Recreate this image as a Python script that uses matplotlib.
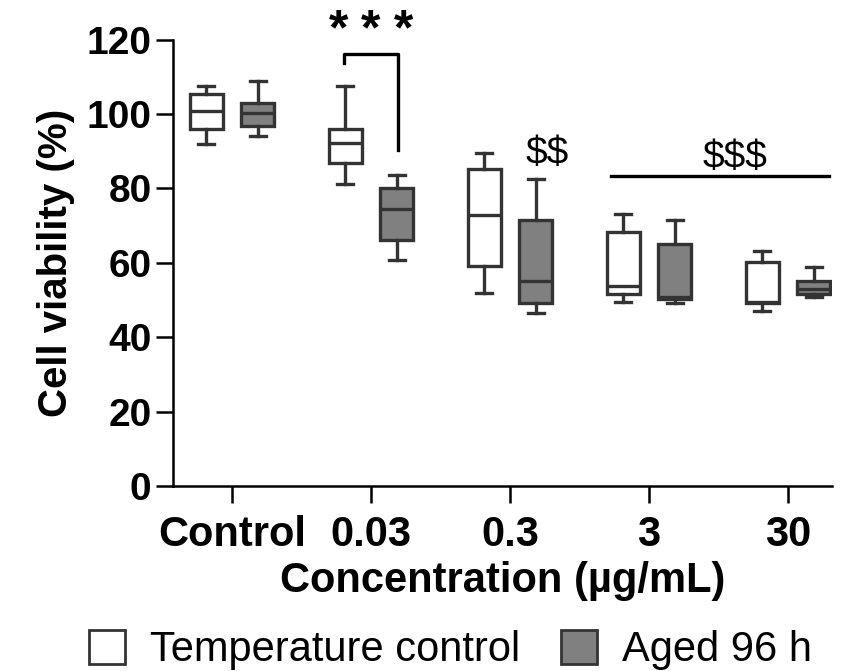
import numpy as np
import matplotlib
matplotlib.use('Agg')
import matplotlib.pyplot as plt
from matplotlib.patches import Patch

plt.rcParams['font.family'] = ['Liberation Sans', 'DejaVu Sans']

# Concentration groups
categories = ['Control', '0.03', '0.3', '3', '30']

# Box statistics (min, Q1, median, Q3, max)
temp_min = [92.0, 81.3, 51.9, 49.4, 47.0]
temp_q1 = [96.1, 86.8, 59.2, 51.7, 49.2]
temp_med = [100.8, 92.1, 72.8, 53.7, 49.5]
temp_q3 = [105.4, 96.0, 85.2, 68.4, 60.1]
temp_max = [107.6, 107.5, 89.4, 73.2, 63.1]

aged_min = [94.1, 60.7, 46.4, 49.2, 50.7]
aged_q1 = [96.8, 66.2, 49.2, 50.3, 51.5]
aged_med = [100.2, 74.5, 55.0, 50.8, 53.0]
aged_q3 = [102.9, 80.2, 71.4, 65.1, 55.2]
aged_max = [108.8, 83.7, 82.5, 71.4, 58.8]

edge = '#333333'
lw = 2.4


def make_stats(mins, q1s, meds, q3s, maxs):
    return [dict(whislo=a, q1=b, med=c, q3=d, whishi=e, fliers=[])
            for a, b, c, d, e in zip(mins, q1s, meds, q3s, maxs)]


fig = plt.figure(figsize=(8.42, 6.71), dpi=100)
ax = fig.add_axes([0.2055, 0.2757, 0.783, 0.6653])

x = np.arange(len(categories))
off = 0.185
width = 0.238

for stats, pos, fc in [(make_stats(temp_min, temp_q1, temp_med, temp_q3, temp_max), x - off, 'white'),
                       (make_stats(aged_min, aged_q1, aged_med, aged_q3, aged_max), x + off, '#808080')]:
    ax.bxp(stats, positions=pos, widths=width, patch_artist=True, showfliers=False,
           boxprops=dict(facecolor=fc, edgecolor=edge, linewidth=lw),
           medianprops=dict(color=edge, linewidth=lw),
           whiskerprops=dict(color=edge, linewidth=lw),
           capprops=dict(color=edge, linewidth=lw),
           capwidths=0.115, manage_ticks=False)

ax.set_xlim(-0.425, 4.32)
ax.set_ylim(0, 120)
ax.set_yticks([0, 20, 40, 60, 80, 100, 120])
ax.set_xticks(x)
ax.set_xticklabels(categories)
for s in ['top', 'right']:
    ax.spines[s].set_visible(False)
for s in ['left', 'bottom']:
    ax.spines[s].set_linewidth(1.8)
ax.tick_params(axis='both', width=1.8, length=12)
ax.tick_params(axis='y', labelsize=28)
ax.tick_params(axis='x', labelsize=30, pad=9)
for lab in ax.get_xticklabels() + ax.get_yticklabels():
    lab.set_fontweight('bold')

ax.set_ylabel('Cell viability (%)', fontsize=29, fontweight='bold', labelpad=8)
ax.set_xlabel('Concentration (µg/mL)', fontsize=30, fontweight='bold', labelpad=4)

# significance annotations
ax.plot([0.807, 0.807, 1.196, 1.196], [113.7, 116.1, 116.1, 90.3], color='black', lw=2.4, clip_on=False)
for sx in [0.764, 1.0, 1.238]:
    ax.text(sx, 118.8, '*', ha='center', va='baseline', fontsize=36, fontweight='bold', clip_on=False)
ax.text(2.27, 89.3, '$$', ha='center', va='center', fontsize=28, parse_math=False)
ax.plot([2.724, 4.295], [83.2, 83.2], color='black', lw=2.4)
ax.text(3.62, 88.2, '$$$', ha='center', va='center', fontsize=28, parse_math=False)

handles = [Patch(facecolor='white', edgecolor=edge, linewidth=2, label='Temperature control'),
           Patch(facecolor='#808080', edgecolor=edge, linewidth=2, label='Aged 96 h')]
fig.legend(handles=handles, loc='lower center', bbox_to_anchor=(0.535, -0.055), ncol=2, frameon=False,
           fontsize=30, handlelength=0.85, handleheight=0.85, handletextpad=0.6, columnspacing=1.0)

fig.savefig('out.png', dpi=100)
